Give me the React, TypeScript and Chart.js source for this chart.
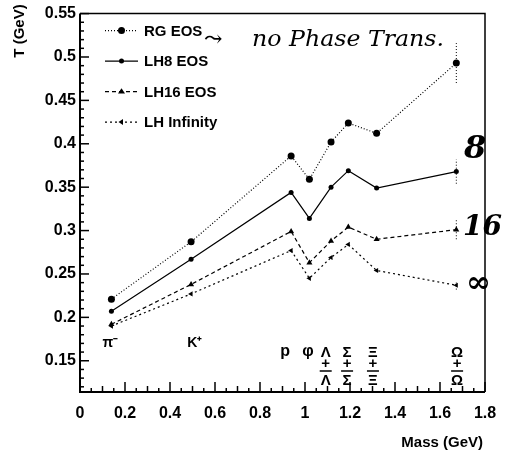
import React, { useEffect, useRef } from "react";
import { Chart, registerables } from "chart.js";

Chart.register(...registerables);

// Hadron masses (GeV) and freeze-out temperatures T (GeV)
const masses = [0.1396, 0.4937, 0.9383, 1.0195, 1.1157, 1.1926, 1.3183, 1.6725];
const rgEOS = [0.221, 0.287, 0.386, 0.359, 0.402, 0.424, 0.412, 0.493];
const lh8EOS = [0.207, 0.267, 0.344, 0.314, 0.35, 0.369, 0.349, 0.368];
const lh16EOS = [0.192, 0.238, 0.299, 0.263, 0.288, 0.304, 0.29, 0.301];
const lhInfinity = [0.19, 0.227, 0.277, 0.245, 0.269, 0.284, 0.254, 0.237];
// error on the last (Omega) point of each series
const omegaErrors = [0.023, 0.014, 0.011, 0.005];

const seriesNames = ["RG EOS", "LH8 EOS", "LH16 EOS", "LH Infinity"];

// particle labels along the bottom
const particleTop = ["π⁻", "K⁺", "p", "φ", "Λ", "Σ", "Ξ", "Ω"];
const particleStacked = [false, false, false, false, true, true, true, true];
const particleLabelX = [0.135, 0.51, 0.912, 1.013, 1.092, 1.187, 1.302, 1.676];

// handwritten annotations
const noteTop = "no Phase Trans.";
const noteRight = ["8", "16", "∞"];

const xTickStep = 0.2;
const yTickStep = 0.05;
const xMin = 0;
const xMax = 1.8;
const yMin = 0.114;
const yMax = 0.55;

const FONT = "'Liberation Sans', Arial, Helvetica, sans-serif";

function fmt(v: number) {
  const r = Math.round(v * 100) / 100;
  return String(r);
}

function drawMarker(ctx: CanvasRenderingContext2D, style: string, x: number, y: number, r: number, rot: number) {
  ctx.save();
  ctx.translate(x, y);
  ctx.rotate((rot * Math.PI) / 180);
  ctx.beginPath();
  if (style === "circle") {
    ctx.arc(0, 0, r, 0, Math.PI * 2);
  } else {
    const h = r * 1.5;
    ctx.moveTo(0, -h * 0.66);
    ctx.lineTo(r, h * 0.34);
    ctx.lineTo(-r, h * 0.34);
    ctx.closePath();
  }
  ctx.fillStyle = "#000";
  ctx.fill();
  ctx.restore();
}

const framePlugin = {
  id: "frameTicks",
  afterDraw(chart: any) {
    const { ctx, chartArea: a, scales } = chart;
    const xs = scales.x;
    const ys = scales.y;
    ctx.save();
    ctx.strokeStyle = "#000";
    // frame
    ctx.lineWidth = 1.5;
    ctx.beginPath();
    ctx.moveTo(a.left, a.top);
    ctx.lineTo(a.right, a.top);
    ctx.lineTo(a.right, a.bottom);
    ctx.stroke();
    ctx.lineWidth = 2;
    ctx.beginPath();
    ctx.moveTo(a.left, a.top);
    ctx.lineTo(a.left, a.bottom);
    ctx.lineTo(a.right, a.bottom);
    ctx.stroke();
    // y ticks (inward)
    ctx.lineWidth = 1.5;
    for (let i = 12; i <= 55; i++) {
      const v = i / 100;
      const y = ys.getPixelForValue(v);
      const major = i % 5 === 0;
      ctx.beginPath();
      ctx.moveTo(a.left, y);
      ctx.lineTo(a.left + (major ? 9 : 4), y);
      ctx.stroke();
    }
    // x ticks (inward)
    for (let i = 0; i <= 36; i++) {
      const v = i * 0.05;
      const x = xs.getPixelForValue(v);
      const len = i % 4 === 0 ? 10 : i % 2 === 0 ? 6 : 4;
      ctx.beginPath();
      ctx.moveTo(x, a.bottom);
      ctx.lineTo(x, a.bottom - len);
      ctx.stroke();
    }
    ctx.restore();
  },
};

const errorBarPlugin = {
  id: "omegaErrors",
  afterDatasetsDraw(chart: any) {
    const { ctx, scales } = chart;
    ctx.save();
    ctx.strokeStyle = "#000";
    ctx.lineWidth = 1;
    ctx.setLineDash([1, 2]);
    chart.data.datasets.forEach((ds: any, i: number) => {
      const last = ds.data[ds.data.length - 1];
      const err = omegaErrors[i];
      const x = scales.x.getPixelForValue(last.x);
      const y1 = scales.y.getPixelForValue(last.y - err);
      const y2 = scales.y.getPixelForValue(last.y + err);
      ctx.beginPath();
      ctx.moveTo(x, y1);
      ctx.lineTo(x, y2);
      ctx.stroke();
    });
    ctx.restore();
  },
};

const legendPlugin = {
  id: "insideLegend",
  afterDraw(chart: any) {
    const { ctx, chartArea: a } = chart;
    ctx.save();
    chart.data.datasets.forEach((ds: any, i: number) => {
      const y = a.top + 17 + i * 30.5;
      const x0 = a.left + 25;
      const x1 = a.left + 58;
      ctx.strokeStyle = "#000";
      ctx.lineWidth = 1.2;
      ctx.setLineDash(ds.borderDash || []);
      ctx.beginPath();
      ctx.moveTo(x0, y);
      ctx.lineTo(x1, y);
      ctx.stroke();
      ctx.setLineDash([]);
      drawMarker(ctx, ds.pointStyle, (x0 + x1) / 2, y, ds.pointRadius, ds.pointRotation || 0);
      ctx.fillStyle = "#000";
      ctx.font = `bold 15px ${FONT}`;
      ctx.textAlign = "left";
      ctx.textBaseline = "middle";
      ctx.fillText(ds.label, a.left + 64, y + 1);
    });
    ctx.restore();
  },
};

const textPlugin = {
  id: "texts",
  afterDraw(chart: any) {
    const { ctx, chartArea: a, scales } = chart;
    ctx.save();
    ctx.fillStyle = "#000";
    // axis titles
    ctx.font = `bold 15px ${FONT}`;
    ctx.save();
    ctx.translate(20, 31);
    ctx.rotate(-Math.PI / 2);
    ctx.textAlign = "center";
    ctx.textBaseline = "middle";
    ctx.fillText("T (GeV)", 0, 0);
    ctx.restore();
    ctx.textAlign = "right";
    ctx.textBaseline = "middle";
    ctx.fillText("Mass (GeV)", a.right - 2, 443);

    // particle labels
    ctx.textAlign = "center";
    particleTop.forEach((lab, i) => {
      const x = scales.x.getPixelForValue(particleLabelX[i]);
      if (!particleStacked[i]) {
        const small = i < 2;
        ctx.font = `bold ${small ? 14 : 16}px ${FONT}`;
        ctx.textBaseline = "middle";
        ctx.fillText(lab, x, a.bottom - (small ? 49 : 40));
      } else {
        ctx.font = `bold 15px ${FONT}`;
        ctx.textBaseline = "middle";
        ctx.fillText(lab, x, a.bottom - 39);
        ctx.fillText("+", x, a.bottom - 28);
        ctx.fillText(lab, x, a.bottom - 11);
        ctx.lineWidth = 1.5;
        ctx.strokeStyle = "#000";
        ctx.beginPath();
        ctx.moveTo(x - 6, a.bottom - 21);
        ctx.lineTo(x + 6, a.bottom - 21);
        ctx.stroke();
      }
    });

    // handwritten notes
    ctx.font = `italic 22px 'DejaVu Serif', serif`;
    ctx.textAlign = "left";
    ctx.textBaseline = "middle";
    ctx.fillText("⤳", 204, 40);
    const w = ctx.measureText(noteTop).width;
    ctx.save();
    ctx.translate(252, 40);
    ctx.scale(192 / w, 1);
    ctx.fillText(noteTop, 0, 0);
    ctx.restore();

    ctx.font = `italic bold 32px 'DejaVu Serif', serif`;
    ctx.textAlign = "left";
    ctx.fillText(noteRight[0], 464, 150);
    ctx.font = `italic bold 28px 'DejaVu Serif', serif`;
    ctx.fillText(noteRight[1], 463, 228);
    ctx.font = `bold 30px 'DejaVu Serif', serif`;
    ctx.fillText(noteRight[2], 466, 284);
    ctx.restore();
  },
};

export default function App() {
  const ref = useRef<HTMLCanvasElement | null>(null);

  useEffect(() => {
    document.body.style.margin = "0";
    const canvas = ref.current;
    if (!canvas) return;
    const mk = (arr: number[]) => arr.map((y, i) => ({ x: masses[i], y }));
    const series = [rgEOS, lh8EOS, lh16EOS, lhInfinity];
    const styles = [
      { borderDash: [1, 2], pointStyle: "circle", pointRadius: 3.5, pointRotation: 0 },
      { borderDash: [], pointStyle: "circle", pointRadius: 2.5, pointRotation: 0 },
      { borderDash: [4, 3], pointStyle: "triangle", pointRadius: 3.5, pointRotation: 0 },
      { borderDash: [2, 3], pointStyle: "triangle", pointRadius: 3, pointRotation: -90 },
    ];
    const tickFont = { family: FONT, size: 16, weight: "bold" as const };
    const chart = new Chart(canvas, {
      type: "line",
      data: {
        datasets: series.map((arr, i) => ({
          label: seriesNames[i],
          data: mk(arr),
          borderColor: "#000",
          backgroundColor: "#000",
          pointBackgroundColor: "#000",
          pointBorderColor: "#000",
          borderWidth: 1.2,
          pointBorderWidth: 0,
          tension: 0,
          ...styles[i],
        })) as any,
      },
      options: {
        animation: false,
        responsive: false,
        devicePixelRatio: 1,
        layout: { padding: { top: 13, right: 24, left: 0, bottom: 0 } },
        plugins: { legend: { display: false }, tooltip: { enabled: false } },
        scales: {
          x: {
            type: "linear",
            min: xMin,
            max: xMax,
            afterFit: (s: any) => {
              s.height = 65;
            },
            grid: { display: false, drawTicks: false },
            border: { display: false },
            ticks: {
              stepSize: xTickStep,
              autoSkip: false,
              maxRotation: 0,
              padding: 12,
              color: "#000",
              font: tickFont,
              callback: (v: any) => fmt(Number(v)),
            },
          },
          y: {
            type: "linear",
            min: yMin,
            max: yMax,
            afterFit: (s: any) => {
              s.width = 80;
            },
            grid: { display: false, drawTicks: false },
            border: { display: false },
            ticks: {
              stepSize: yTickStep,
              includeBounds: false,
              autoSkip: false,
              padding: 4,
              color: "#000",
              font: tickFont,
              callback: (v: any) => fmt(Number(v)),
            },
          },
        },
      } as any,
      plugins: [framePlugin, errorBarPlugin, legendPlugin, textPlugin],
    });
    return () => chart.destroy();
  }, []);

  return (
    <div style={{ position: "absolute", left: 0, top: 0, width: 509, height: 457, background: "#fff" }}>
      <canvas ref={ref} width={509} height={457} style={{ display: "block", width: 509, height: 457 }} />
    </div>
  );
}
